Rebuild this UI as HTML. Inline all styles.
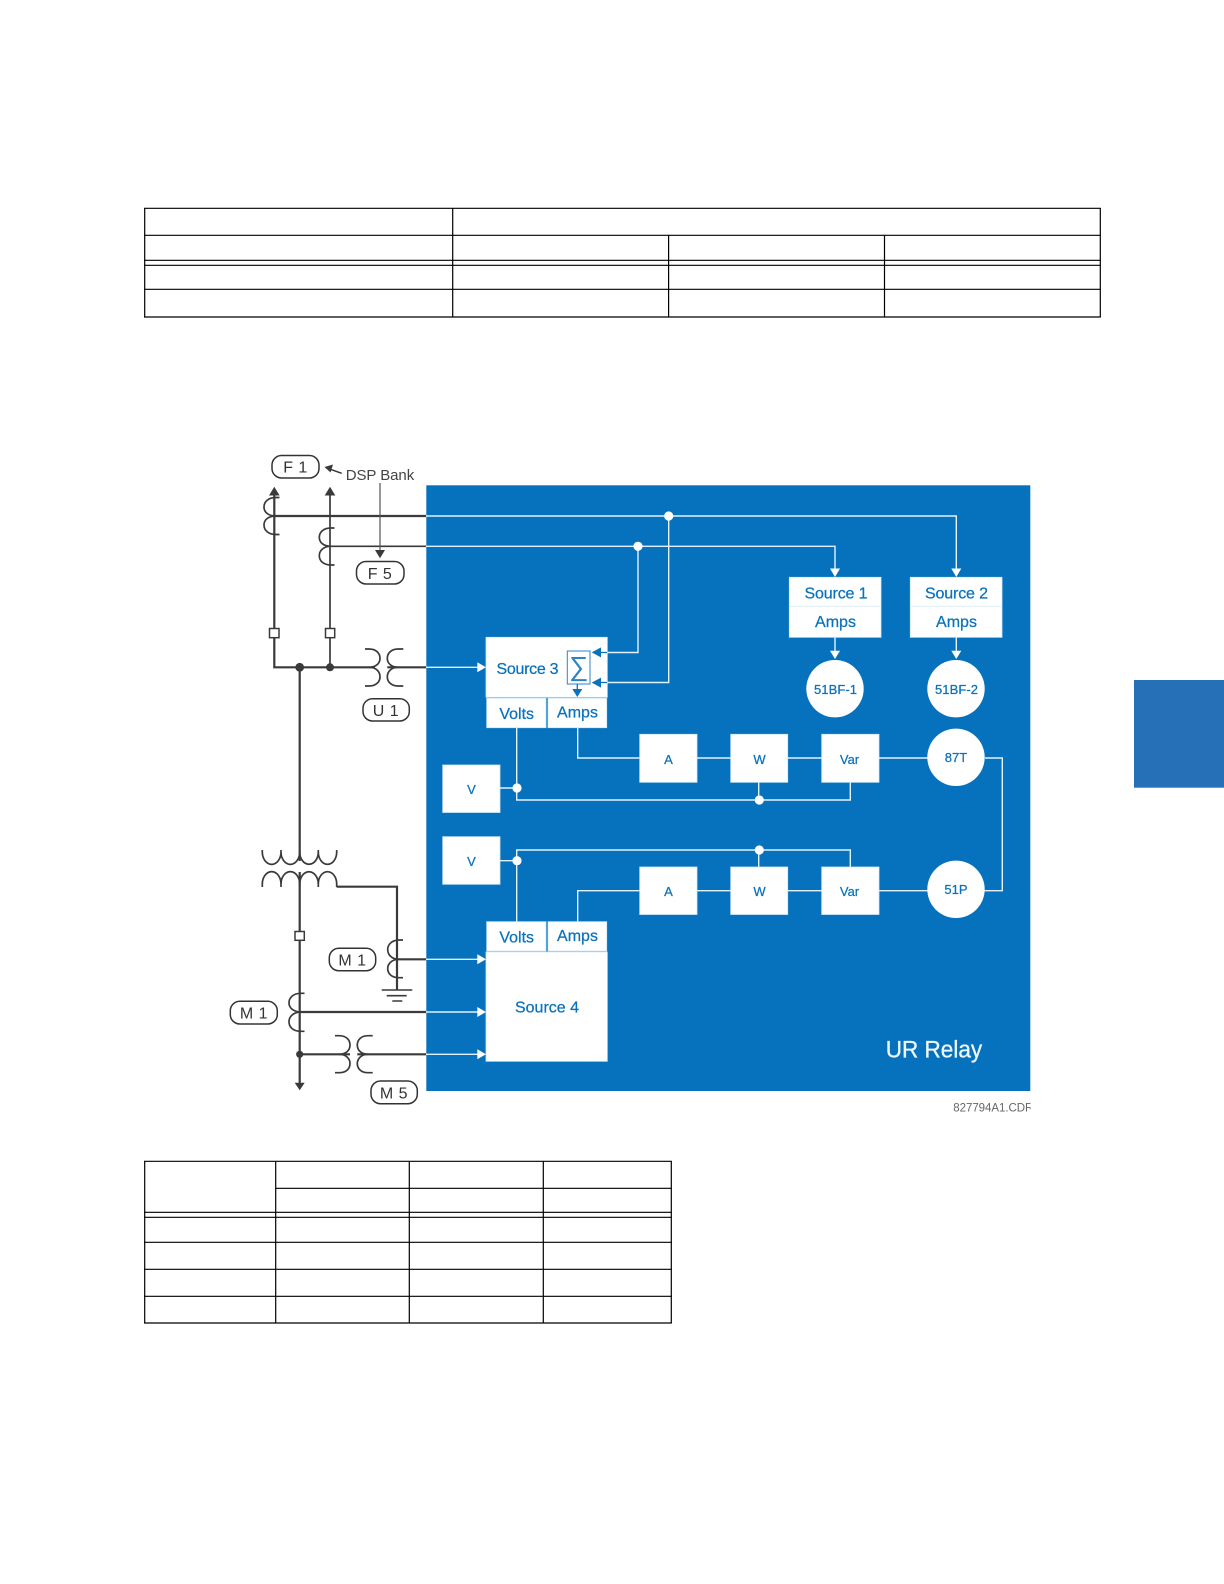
<!DOCTYPE html>
<html lang="en">
<head>
<meta charset="utf-8">
<title>UR Relay diagram</title>
<style>
html,body{margin:0;padding:0;background:#fff;width:1224px;height:1584px;overflow:hidden}
svg{display:block;font-family:"Liberation Sans",sans-serif}
.t line{stroke:#000;stroke-width:1.2}
.d{fill:none;stroke:#3a3a3a;stroke-width:1.7}
.dt{fill:none;stroke:#3a3a3a;stroke-width:2.2}
.w{fill:none;stroke:#e2f2fc;stroke-width:1.4}
.b{fill:#fff;stroke:#cfe8f8;stroke-width:.8}
.l{fill:#0a72bb;text-anchor:middle;stroke:#0a72bb;stroke-width:.25}
.p{fill:#fff;stroke:#333;stroke-width:1.5}
.pt{fill:#333;font-size:16px;text-anchor:middle;letter-spacing:.5px}
</style>
</head>
<body>
<svg width="1224" height="1584" viewBox="0 0 1224 1584" xmlns="http://www.w3.org/2000/svg">
<rect width="1224" height="1584" fill="#fff"/>

<!-- side tab -->
<rect x="1134" y="680" width="90" height="107.7" fill="#2670b8"/>

<!-- top table -->
<g class="t">
<line x1="144" y1="208.3" x2="1100.8" y2="208.3"/>
<line x1="144" y1="235.3" x2="1100.8" y2="235.3"/>
<line x1="144" y1="260.3" x2="1100.8" y2="260.3"/>
<line x1="144" y1="265.3" x2="1100.8" y2="265.3"/>
<line x1="144" y1="289.3" x2="1100.8" y2="289.3"/>
<line x1="144" y1="317" x2="1100.8" y2="317"/>
<line x1="144.7" y1="208" x2="144.7" y2="317"/>
<line x1="452.7" y1="208" x2="452.7" y2="317"/>
<line x1="668.6" y1="235" x2="668.6" y2="317"/>
<line x1="884.5" y1="235" x2="884.5" y2="317"/>
<line x1="1100.3" y1="208" x2="1100.3" y2="317"/>
</g>

<!-- bottom table -->
<g class="t">
<line x1="144" y1="1161.3" x2="671.8" y2="1161.3"/>
<line x1="275.7" y1="1188.3" x2="671.8" y2="1188.3"/>
<line x1="144" y1="1212.3" x2="671.8" y2="1212.3"/>
<line x1="144" y1="1217.3" x2="671.8" y2="1217.3"/>
<line x1="144" y1="1242.3" x2="671.8" y2="1242.3"/>
<line x1="144" y1="1269.3" x2="671.8" y2="1269.3"/>
<line x1="144" y1="1296.3" x2="671.8" y2="1296.3"/>
<line x1="144" y1="1323" x2="671.8" y2="1323"/>
<line x1="144.7" y1="1161" x2="144.7" y2="1323"/>
<line x1="275.7" y1="1161" x2="275.7" y2="1323"/>
<line x1="409.3" y1="1161" x2="409.3" y2="1323"/>
<line x1="543.3" y1="1161" x2="543.3" y2="1323"/>
<line x1="671.3" y1="1161" x2="671.3" y2="1323"/>
</g>

<!-- relay body -->
<rect x="426.3" y="485.3" width="604" height="605.7" fill="#0671bc"/>

<!-- white connectors -->
<g class="w">
<path d="M426 516H956.3V570"/>
<path d="M426 546.3H835V570"/>
<path d="M638 546.3V652.5H601"/>
<path d="M668.7 516V682.5H601"/>
<path d="M426 667.3H478"/>
<path d="M426 959.3H478"/>
<path d="M426 1012H478"/>
<path d="M426 1054.3H478"/>
<path d="M835 637V652"/>
<path d="M956.3 637V652"/>
<path d="M516.7 728V800H850.3V782"/>
<path d="M758.7 782V800"/>
<path d="M500 788H517"/>
<path d="M577.7 728V758H956"/>
<path d="M985 758H1002.3V890.7H956"/>
<path d="M500 860.7H517"/>
<path d="M516.7 921.7V850H850.3V867"/>
<path d="M758.7 850V867"/>
<path d="M577.7 921.7V890.7H956"/>
</g>

<!-- white arrowheads -->
<g fill="#fff">
<polygon points="486,667.3 477.3,662.3 477.3,672.3"/>
<polygon points="486,959.3 477.3,954.3 477.3,964.3"/>
<polygon points="486,1012 477.3,1007 477.3,1017"/>
<polygon points="486,1054.3 477.3,1049.3 477.3,1059.3"/>
<polygon points="835,577 830,568.5 840,568.5"/>
<polygon points="956.3,577 951.3,568.5 961.3,568.5"/>
<polygon points="835,659 830,650.7 840,650.7"/>
<polygon points="956.3,659 951.3,650.7 961.3,650.7"/>
<circle cx="668.7" cy="516" r="4.6"/>
<circle cx="638" cy="546.3" r="4.6"/>
<circle cx="517" cy="788" r="4.6"/>
<circle cx="759.3" cy="800" r="4.6"/>
<circle cx="517" cy="860.7" r="4.6"/>
<circle cx="759.3" cy="850" r="4.6"/>
</g>

<!-- boxes -->
<g class="b">
<rect x="486" y="637.3" width="121.3" height="60"/>
<rect x="486.7" y="698.3" width="59.3" height="29.4"/>
<rect x="548" y="698.3" width="58.7" height="29.4"/>
<rect x="486.7" y="921.7" width="59.3" height="29.3"/>
<rect x="548" y="921.7" width="58.7" height="29.3"/>
<rect x="486" y="952" width="121.3" height="109.3"/>
<rect x="789.3" y="577.3" width="91.7" height="60"/>
<rect x="910.3" y="577.3" width="91.7" height="60"/>
<rect x="639.7" y="734.3" width="57.3" height="48"/>
<rect x="730.7" y="734.3" width="57" height="48"/>
<rect x="821.7" y="734.3" width="57.3" height="48"/>
<rect x="639.7" y="867" width="57.3" height="47.5"/>
<rect x="730.7" y="867" width="57" height="47.5"/>
<rect x="821.7" y="867" width="57.3" height="47.5"/>
<rect x="442.7" y="765" width="57.3" height="47.5"/>
<rect x="442.7" y="836.7" width="57.3" height="47.6"/>
</g>
<line x1="790" y1="606.3" x2="880" y2="606.3" stroke="#dcecf6" stroke-width=".8"/>
<line x1="911" y1="606.3" x2="1001" y2="606.3" stroke="#dcecf6" stroke-width=".8"/>
<g fill="#fff">
<circle cx="835" cy="688.7" r="28.7"/>
<circle cx="956" cy="688.7" r="28.7"/>
<circle cx="956" cy="757.3" r="28.7"/>
<circle cx="956" cy="889.3" r="28.7"/>
</g>

<!-- sigma block -->
<rect x="567.3" y="651" width="22.7" height="33" fill="none" stroke="#2b84c6" stroke-width="1"/>
<text x="578.7" y="675.5" font-size="27" fill="#2b84c6" text-anchor="middle">∑</text>
<g stroke="#0a72bb" stroke-width="1.3" fill="none">
<path d="M577.3 684V690"/>
<path d="M607 652.5H600"/>
<path d="M607 682.5H600"/>
</g>
<g fill="#0a72bb">
<polygon points="577.3,697 572.3,689 582.3,689"/>
<polygon points="591.7,652.4 601,647.4 601,657.4"/>
<polygon points="591.7,682.6 601,677.6 601,687.6"/>
</g>

<!-- blue labels -->
<g class="l" font-size="16">
<text x="527.5" y="674" textLength="62">Source 3</text>
<text x="516.7" y="719">Volts</text>
<text x="577.5" y="717.5">Amps</text>
<text x="516.7" y="942.5">Volts</text>
<text x="577.5" y="941">Amps</text>
<text x="547" y="1012.5" textLength="64">Source 4</text>
<text x="836" y="598.5" textLength="63">Source 1</text>
<text x="956.5" y="598.5" textLength="63">Source 2</text>
<text x="835.5" y="627">Amps</text>
<text x="956.5" y="627">Amps</text>
</g>
<g class="l" font-size="13">
<text x="835.5" y="694" textLength="43">51BF-1</text>
<text x="956.5" y="694" textLength="43">51BF-2</text>
<text x="956" y="762">87T</text>
<text x="956" y="894">51P</text>
<text x="668.5" y="764">A</text>
<text x="759.5" y="764">W</text>
<text x="849.5" y="764">Var</text>
<text x="668.5" y="896">A</text>
<text x="759.5" y="896">W</text>
<text x="849.5" y="896">Var</text>
<text x="471.5" y="794">V</text>
<text x="471.5" y="866">V</text>
</g>
<text x="885.7" y="1057.3" font-size="24" fill="#eef7fd" stroke="#eef7fd" stroke-width=".3" textLength="96.5" lengthAdjust="spacingAndGlyphs">UR Relay</text>

<!-- dark single-line diagram -->
<g class="dt">
<path d="M274.3 495V667.3H375"/>
<path d="M274.3 516H426"/>
<path d="M299.7 667.3V861"/>
<path d="M299.7 872V1083"/>
<path d="M299.7 1012H426"/>
<path d="M299.7 1054.3H350"/>
<path d="M387.3 667.3H426"/>
<path d="M357.3 1054.3H426"/>
<path d="M336.7 886.7H397V990"/>
<path d="M397 959.3H426"/>
</g>
<g class="d">
<path d="M330 495V667.3"/>
<path d="M330 546.3H426"/>
<!-- CTs -->
<path d="M279.5 497.5H276C268 497.5 264 502 264 507C264 512 268 516 276 516C268 516 264 520 264 525C264 530 268 534.5 276 534.5H279.5"/>
<path d="M334.5 528H331C323 528 319.3 532.5 319.3 537.2C319.3 542 323 546.3 331 546.3C323 546.3 319.3 551 319.3 555.6C319.3 560.5 323 565 331 565H334.5"/>
<path d="M403 940H399C391.5 940 387.7 945 387.7 949.5C387.7 954.5 391.5 959.3 399 959.3C391.5 959.3 387.7 964 387.7 968.5C387.7 973.5 391.5 977.7 399 977.7H403"/>
<path d="M304.5 993.3H301C293 993.3 289 998 289 1002.7C289 1007.5 293 1012 301 1012C293 1012 289 1017 289 1021.7C289 1027 293 1031.3 301 1031.3H304.5"/>
<!-- VTs -->
<path d="M365 649H369C376.5 649 380 653.5 380 658.2C380 663 376.5 667.3 369 667.3C376.5 667.3 380 672 380 676.7C380 681.5 376.5 686 369 686H365"/>
<path d="M403.3 649H398C391 649 387.3 653.5 387.3 658.2C387.3 663 391 667.3 398 667.3C391 667.3 387.3 672 387.3 676.7C387.3 681.5 391 686 398 686H403.3"/>
<path d="M335 1035.7H339C346.5 1035.7 350 1040 350 1045C350 1050 346.5 1054.3 339 1054.3C346.5 1054.3 350 1059 350 1063.5C350 1068.5 346.5 1072.7 339 1072.7H335"/>
<path d="M372.7 1035.7H368C361 1035.7 357.3 1040 357.3 1045C357.3 1050 361 1054.3 368 1054.3C361 1054.3 357.3 1059 357.3 1063.5C357.3 1068.5 361 1072.7 368 1072.7H372.7"/>
<!-- transformer -->
<path d="M262.3 850V852A9.3 12.3 0 0 0 281 852V850M281 852A9.3 12.3 0 0 0 299.7 852V850M299.7 852A9.3 12.3 0 0 0 318.3 852V850M318.3 852A9.2 12.3 0 0 0 336.7 852V850"/>
<path d="M262.3 887V884A9.3 12.3 0 0 1 281 884V887M281 884A9.3 12.3 0 0 1 299.7 884V887M299.7 884A9.3 12.3 0 0 1 318.3 884V887M318.3 884A9.2 12.3 0 0 1 336.7 884V887"/>
<!-- ground -->
<path d="M381.7 990H412.3M386.7 995.7H406.7M392.3 1001H402.3" stroke-width="1.6"/>
</g>
<!-- callout lines -->
<path d="M380 483V552" stroke="#555" stroke-width="1.2" fill="none"/>
<path d="M341.7 473.3L329 468.8" stroke="#333" stroke-width="1.4" fill="none"/>

<g fill="#3a3a3a">
<polygon points="274.3,486.7 269,495.5 279.6,495.5"/>
<polygon points="330,486.7 324.7,495.5 335.3,495.5"/>
<polygon points="299.7,1090.3 294.7,1082.7 304.7,1082.7"/>
<polygon points="380,558.3 375,550 385,550"/>
<polygon points="324.5,467 333,464.5 330.5,472.5"/>
<circle cx="299.7" cy="667.3" r="4.4"/>
<circle cx="330" cy="667.3" r="4"/>
<circle cx="299.7" cy="1054.3" r="3.6"/>
</g>
<g fill="#fff" stroke="#3a3a3a" stroke-width="1.5">
<rect x="269.5" y="628.5" width="9.5" height="9.2"/>
<rect x="325.5" y="628.5" width="9.2" height="9.2"/>
<rect x="295" y="931.5" width="9.3" height="8.8"/>
</g>

<!-- pills -->
<rect class="p" x="272" y="455.5" width="47" height="22.5" rx="9.5"/>
<text class="pt" x="295.5" y="472.5">F 1</text>
<rect class="p" x="356.5" y="561.5" width="47.5" height="22.5" rx="9.5"/>
<text class="pt" x="380" y="579">F 5</text>
<rect class="p" x="363" y="698.7" width="46.3" height="22.3" rx="9.5"/>
<text class="pt" x="386" y="716">U 1</text>
<rect class="p" x="329.3" y="948.3" width="46.4" height="22.4" rx="9.5"/>
<text class="pt" x="352.5" y="965.5">M 1</text>
<rect class="p" x="230.3" y="1001.3" width="47" height="22.7" rx="9.5"/>
<text class="pt" x="254" y="1018.5">M 1</text>
<rect class="p" x="371" y="1081" width="46.3" height="22.7" rx="9.5"/>
<text class="pt" x="394" y="1098.5">M 5</text>

<text x="345.7" y="480" font-size="15" fill="#444" textLength="68.5">DSP Bank</text>

<svg x="950" y="1098" width="80.5" height="20" viewBox="950 1098 80.5 20">
<text x="953.3" y="1111.7" font-size="11.5" fill="#666" textLength="80">827794A1.CDR</text>
</svg>
</svg>
</body>
</html>
